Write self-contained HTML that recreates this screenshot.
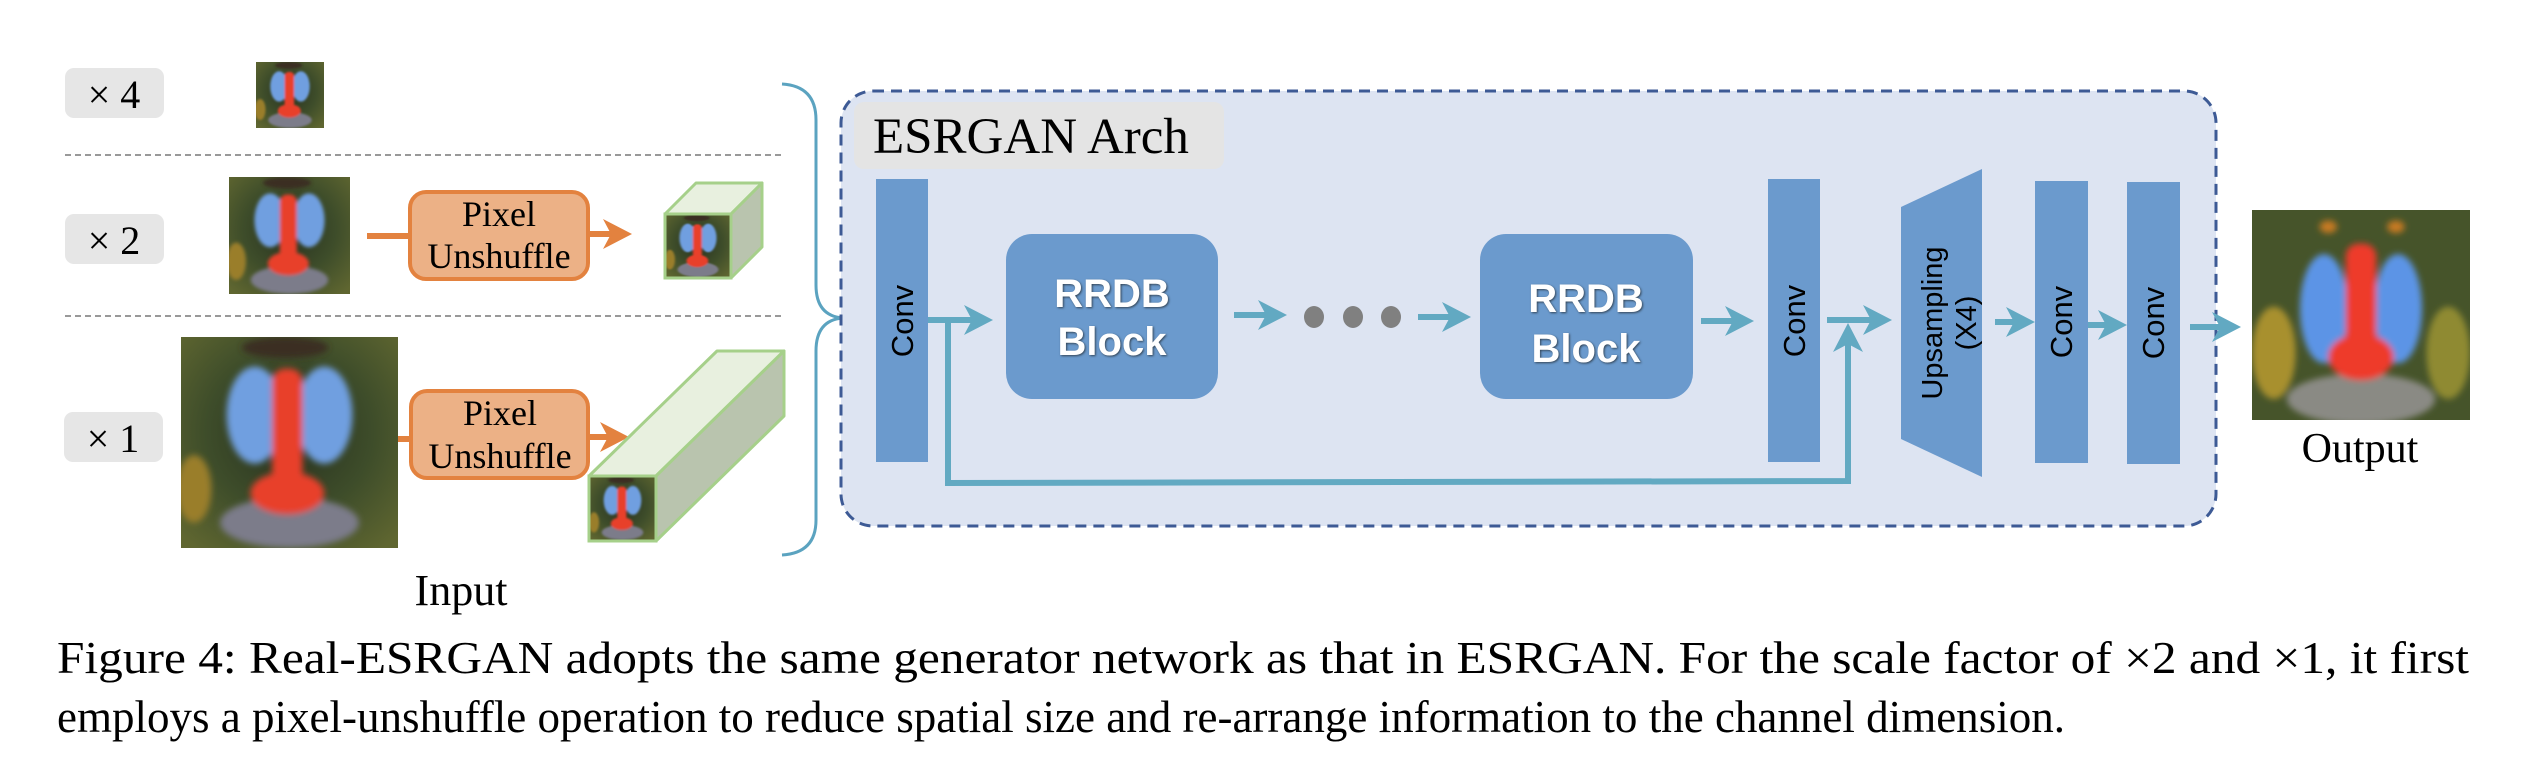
<!DOCTYPE html>
<html><head><meta charset="utf-8"><style>
html,body{margin:0;padding:0;background:#fff;}
svg{display:block;}
</style></head><body>
<svg width="2542" height="768" viewBox="0 0 2542 768" xmlns="http://www.w3.org/2000/svg">
<defs>
  <filter id="blur"><feGaussianBlur stdDeviation="1.5"/></filter>
  <radialGradient id="bg" cx="0.5" cy="0.45" r="0.7">
    <stop offset="0" stop-color="#26301f"/>
    <stop offset="0.55" stop-color="#3e4d2a"/>
    <stop offset="1" stop-color="#5f6630"/>
  </radialGradient>
  <symbol id="bab" viewBox="0 0 100 100" preserveAspectRatio="none">
    <rect width="100" height="100" fill="url(#bg)"/>
    <g filter="url(#blur)">
      <ellipse cx="6" cy="72" rx="8" ry="16" fill="#9a7e2a"/>
      <ellipse cx="50" cy="88" rx="32" ry="12" fill="#7c7c8a"/>
      <ellipse cx="34" cy="37" rx="13" ry="23" fill="#6f9fe0"/>
      <ellipse cx="66" cy="37" rx="13" ry="23" fill="#6f9fe0"/>
      <rect x="42" y="15" width="14" height="55" rx="6" fill="#e8402c"/>
      <ellipse cx="49" cy="74" rx="17" ry="10" fill="#e8402c"/>
      <ellipse cx="48" cy="5" rx="20" ry="5" fill="#3a2f20"/>
    </g>
  </symbol>
  <symbol id="babo" viewBox="0 0 100 100" preserveAspectRatio="none">
    <rect width="100" height="100" fill="#46542a"/>
    <g filter="url(#blur)">
      <ellipse cx="10" cy="68" rx="10" ry="22" fill="#a8902e"/>
      <ellipse cx="90" cy="68" rx="10" ry="22" fill="#8f8a30"/>
      <ellipse cx="50" cy="90" rx="34" ry="12" fill="#8a8a84"/>
      <ellipse cx="33" cy="47" rx="11" ry="26" fill="#5b94e6"/>
      <ellipse cx="67" cy="47" rx="11" ry="26" fill="#5b94e6"/>
      <rect x="43" y="16" width="14" height="55" rx="6" fill="#ee3b2a"/>
      <ellipse cx="50" cy="70" rx="15" ry="11" fill="#ee3b2a"/>
      <ellipse cx="35" cy="8" rx="4" ry="3" fill="#c87a20"/>
      <ellipse cx="66" cy="8" rx="4" ry="3" fill="#c87a20"/>
    </g>
  </symbol>
</defs>

<g font-family="Liberation Serif, serif" font-size="40" fill="#000" text-anchor="middle">
  <rect x="65" y="68" width="99" height="50" rx="9" fill="#e6e6e6"/>
  <text x="114" y="108">× 4</text>
  <rect x="65" y="214" width="99" height="50" rx="9" fill="#e6e6e6"/>
  <text x="114" y="254">× 2</text>
  <rect x="64" y="412" width="99" height="50" rx="9" fill="#e6e6e6"/>
  <text x="113" y="452">× 1</text>
</g>
<line x1="65" y1="155" x2="782" y2="155" stroke="#999" stroke-width="2" stroke-dasharray="6,4"/>
<line x1="65" y1="316" x2="782" y2="316" stroke="#999" stroke-width="2" stroke-dasharray="6,4"/>

<use href="#bab" x="256" y="62" width="68" height="66"/>
<use href="#bab" x="229" y="177" width="121" height="117"/>
<use href="#bab" x="181" y="337" width="217" height="211"/>

<g stroke="#e3823f" stroke-width="6">
  <line x1="367" y1="236" x2="412" y2="236"/>
  <line x1="588" y1="234" x2="615" y2="234"/>
  <line x1="398" y1="439" x2="412" y2="439"/>
  <line x1="588" y1="437" x2="612" y2="437"/>
</g>
<polygon points="632,234 603,219 611,234 603,249" fill="#e3823f"/>
<polygon points="629,437 600,422 608,437 600,452" fill="#e3823f"/>
<rect x="410" y="192" width="178" height="87" rx="16" fill="#ecb186" stroke="#e3823f" stroke-width="4"/>
<rect x="411" y="391" width="177" height="87" rx="16" fill="#ecb186" stroke="#e3823f" stroke-width="4"/>
<g font-family="Liberation Serif, serif" font-size="36" text-anchor="middle" fill="#000">
  <text x="499" y="226">Pixel</text><text x="499" y="268">Unshuffle</text>
  <text x="500" y="425">Pixel</text><text x="500" y="468">Unshuffle</text>
</g>

<g stroke="#a6d08a" stroke-width="3" stroke-linejoin="round">
  <polygon points="665,214 696,183 762,183 731,214" fill="#e8f0df"/>
  <polygon points="731,214 762,183 762,247 731,278" fill="#b9c4ae"/>
  <polygon points="589,476 717,351 784,351 656,476" fill="#e8f0df"/>
  <polygon points="656,476 784,351 784,416 656,541" fill="#b9c4ae"/>
</g>
<use href="#bab" x="666" y="215" width="64" height="62"/>
<use href="#bab" x="590" y="477" width="65" height="63"/>
<rect x="665" y="214" width="66" height="64" fill="none" stroke="#a6d08a" stroke-width="3"/>
<rect x="589" y="476" width="67" height="65" fill="none" stroke="#a6d08a" stroke-width="3"/>

<path d="M782,84 Q816,86 816,120 L816,285 Q816,316 843,318 Q816,320 816,351 L816,520 Q816,553 782,555" fill="none" stroke="#5ba3c0" stroke-width="3"/>

<text x="461" y="605" font-family="Liberation Serif, serif" font-size="44" text-anchor="middle">Input</text>

<rect x="841" y="91" width="1375" height="435" rx="32" fill="#dde4f2" stroke="#3d5a95" stroke-width="3" stroke-dasharray="11,7"/>
<rect x="854" y="102" width="370" height="67" rx="10" fill="#e4e4e4"/>
<text x="873" y="153" font-family="Liberation Serif, serif" font-size="51" fill="#000">ESRGAN Arch</text>

<g fill="#6b9acd">
  <rect x="876" y="179" width="52" height="283"/>
  <rect x="1768" y="179" width="52" height="283"/>
  <rect x="2035" y="181" width="53" height="282"/>
  <rect x="2127" y="182" width="53" height="282"/>
  <polygon points="1901,207 1982,169 1982,477 1901,439"/>
  <rect x="1006" y="234" width="212" height="165" rx="26"/>
  <rect x="1480" y="234" width="213" height="165" rx="26"/>
</g>
<g font-family="Liberation Sans, sans-serif" font-size="31" fill="#000" text-anchor="middle">
  <text transform="translate(913,321) rotate(-90)">Conv</text>
  <text transform="translate(1805,321) rotate(-90)">Conv</text>
  <text transform="translate(2072,322) rotate(-90)">Conv</text>
  <text transform="translate(2164,323) rotate(-90)">Conv</text>
  <text transform="translate(1942,323) rotate(-90)" font-size="29">Upsampling</text>
  <text transform="translate(1976,323) rotate(-90)" font-size="29">(X4)</text>
</g>
<g font-family="Liberation Sans, sans-serif" font-weight="bold" font-size="40" fill="#fff" text-anchor="middle" style="text-shadow:1px 1px 2px #345">
  <text x="1112" y="307">RRDB</text><text x="1112" y="355">Block</text>
  <text x="1586" y="312">RRDB</text><text x="1586" y="362">Block</text>
</g>
<g fill="#808080">
  <ellipse cx="1314" cy="317" rx="10" ry="11"/>
  <ellipse cx="1353" cy="317" rx="10" ry="11"/>
  <ellipse cx="1391" cy="317" rx="10" ry="11"/>
</g>

<g stroke="#62a9c2" stroke-width="6" fill="none">
  <line x1="928" y1="320" x2="980" y2="320"/>
  <polyline points="948,320 948,483 1848,481 1848,340"/>
  <line x1="1234" y1="315" x2="1275" y2="315"/>
  <line x1="1418" y1="317" x2="1458" y2="317"/>
  <line x1="1701" y1="321" x2="1742" y2="321"/>
  <line x1="1827" y1="320" x2="1880" y2="320"/>
  <line x1="1995" y1="322" x2="2022" y2="322"/>
  <line x1="2088" y1="325" x2="2115" y2="325"/>
  <line x1="2190" y1="327" x2="2228" y2="327"/>
</g>
<g fill="#62a9c2">
  <polygon points="993,320 964,305 972,320 964,335"/>
  <polygon points="1287,315 1258,300 1266,315 1258,330"/>
  <polygon points="1471,317 1442,302 1450,317 1442,332"/>
  <polygon points="1754,321 1725,306 1733,321 1725,336"/>
  <polygon points="1892,320 1863,305 1871,320 1863,335"/>
  <polygon points="1848,323 1833,352 1848,344 1863,352"/>
  <polygon points="2035,322 2006,307 2014,322 2006,337"/>
  <polygon points="2127,325 2098,310 2106,325 2098,340"/>
  <polygon points="2241,327 2212,312 2220,327 2212,342"/>
</g>

<use href="#babo" x="2252" y="210" width="218" height="210"/>
<text x="2360" y="462" font-family="Liberation Serif, serif" font-size="42" text-anchor="middle">Output</text>

<g font-family="Liberation Serif, serif" font-size="46" fill="#000">
  <text x="57" y="673" textLength="2412" lengthAdjust="spacingAndGlyphs">Figure 4:  Real-ESRGAN adopts the same generator network as that in ESRGAN. For the scale factor of ×2 and ×1, it first</text>
  <text x="57" y="732" textLength="2008" lengthAdjust="spacingAndGlyphs">employs a pixel-unshuffle operation to reduce spatial size and re-arrange information to the channel dimension.</text>
</g>
</svg>
</body></html>
